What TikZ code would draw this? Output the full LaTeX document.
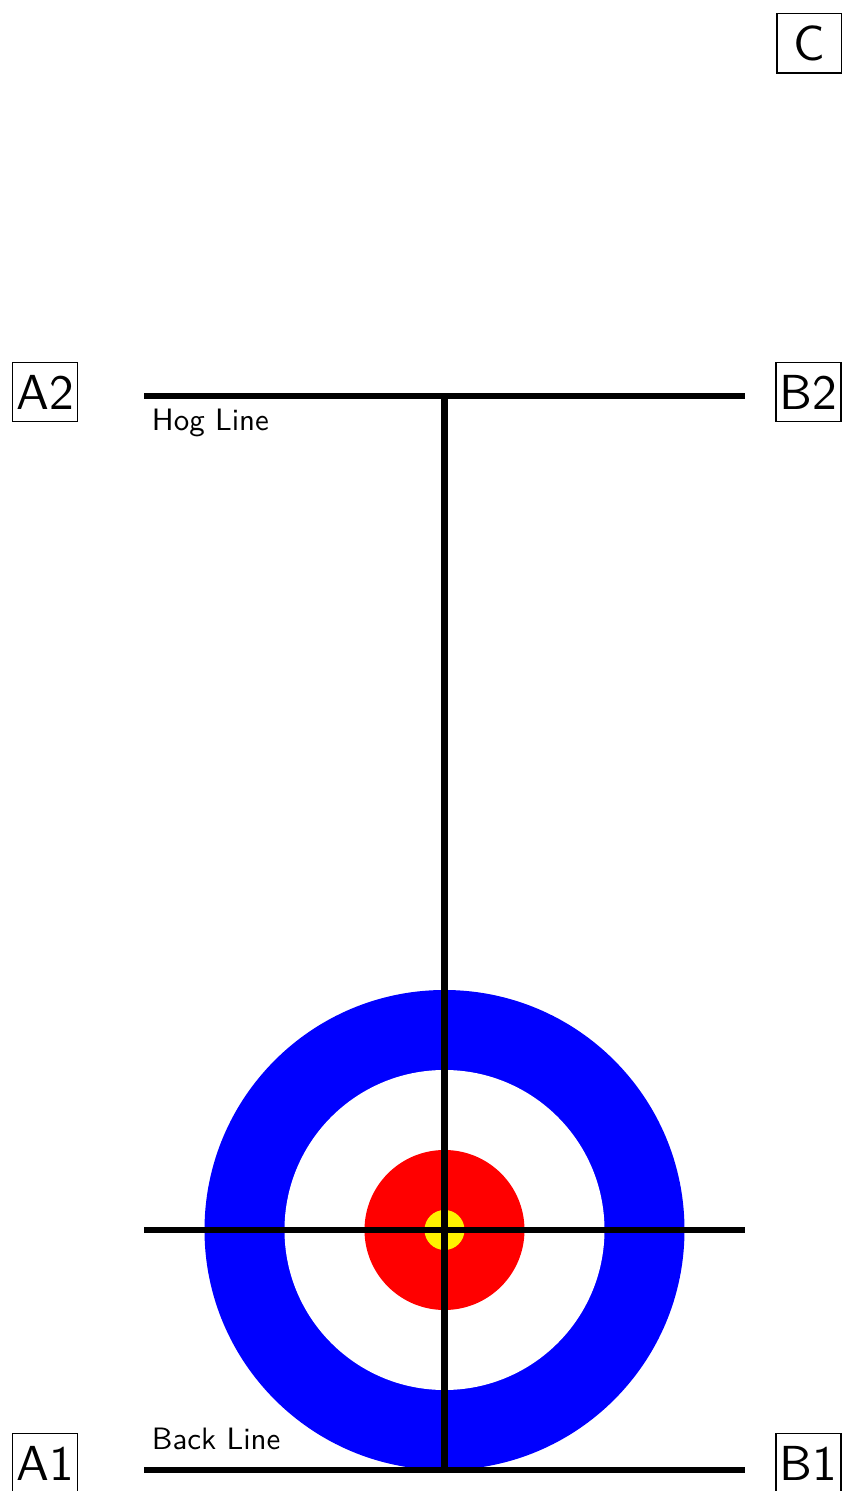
\documentclass[tikz,border=0pt]{standalone}
\usepackage{tikz}

\begin{document}
\begin{tikzpicture}[
    corner/.style={draw, line width=1pt, inner sep=0pt, scale=3.5,
        minimum width=0.463cm, minimum height=0.424cm, font=\sffamily},
    sheetline/.style={black, line width=4pt},
    linelabel/.style={anchor=base west, inner sep=0pt, scale=2.2, font=\sffamily}
]
\useasboundingbox (-11.1125,-6.525) rectangle (9.9625,30.75);

\def\w{7.5};
\def\hog{20.85};
\def\back{-6};

% house
\fill[blue] (0,0) circle [radius=6];
\fill[white] (0,0) circle [radius=4];
\fill[red] (0,0) circle [radius=2];
\fill[yellow] (0,0) circle [radius=0.5];

\foreach \lname/\y in {hog/\hog, tee/0, back/\back}{
       \coordinate (\lname L) at (-\w, \y);
       \coordinate (\lname R) at (\w, \y);
       \draw[sheetline] (\lname L) -- (\lname R);
}

\coordinate (hogC) at (0, \hog);
\coordinate (backC) at (0, \back);
\draw[sheetline, line width=5pt, shorten <=-2pt, shorten >=-2pt] (hogC) -- (backC);

\node[linelabel] (hogtext) at (-7.33, 19.98) {Hog Line};
\node[linelabel] (backtext) at (-7.33, -5.48) {Back Line};

\foreach \lbl/\x/\y in {A2/-9.99/20.95, B2/9.1/20.95, A1/-9.99/-5.83, B1/9.1/-5.83, C/9.12/29.67}{
       \node[corner] (\lbl) at (\x, \y) {\lbl};
}

\end{tikzpicture}
\end{document}
